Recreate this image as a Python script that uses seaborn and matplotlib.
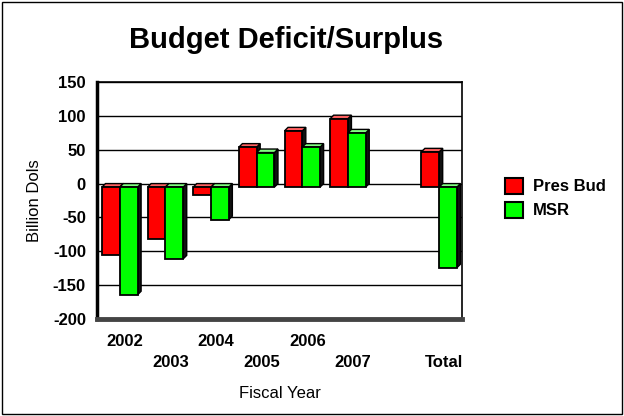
import pandas as pd
import matplotlib.pyplot as plt
import matplotlib.transforms as mtransforms
from matplotlib.patches import Polygon, Patch, Rectangle
import seaborn as sns

# values (billions)
categories = ['2002', '2003', '2004', '2005', '2006', '2007', 'Total']
pres_bud = [-101, -77, -12, 59, 83, 101, 52]
msr = [-159, -106, -48, 51, 59, 80, -119]
series_names = ['Pres Bud', 'MSR']

# one empty slot between 2007 and Total
slot_order = ['2002', '2003', '2004', '2005', '2006', '2007', '', 'Total']
tick_labels = ['2002', '\n2003', '2004', '\n2005', '2006', '\n2007', '', '\nTotal']
y_ticks = [-200, -150, -100, -50, 0, 50, 100, 150]

colors = {'Pres Bud': '#ff0000', 'MSR': '#00ff00'}
top_colors = {'Pres Bud': '#ff6060', 'MSR': '#80ff80'}

df = pd.DataFrame({
    'year': categories * 2,
    'series': ['Pres Bud'] * len(categories) + ['MSR'] * len(categories),
    'value': pres_bud + msr,
})

sns.set_style('white')
plt.rcParams['font.family'] = ['Liberation Sans', 'DejaVu Sans']
plt.rcParams['text.color'] = 'black'
plt.rcParams['axes.labelcolor'] = 'black'
plt.rcParams['xtick.color'] = 'black'
plt.rcParams['ytick.color'] = 'black'

fig = plt.figure(figsize=(6.24, 4.16), dpi=100)
ax = fig.add_axes([97 / 624, 1 - 319 / 416, 365 / 624, 237 / 416])

sns.barplot(data=df, x='year', y='value', hue='series', order=slot_order,
            hue_order=series_names, palette=colors, saturation=1, width=0.78,
            edgecolor='black', linewidth=1.3, legend=False, ax=ax, zorder=3)

ax.set_xlim(-0.5, len(slot_order) - 0.5)
ax.set_ylim(-200, 150)
ax.set_yticks(y_ticks)
ax.set_yticklabels([str(v) for v in y_ticks], fontweight='bold', fontsize=12)
ax.set_xticks(range(len(slot_order)))
ax.set_xticklabels(tick_labels, fontweight='bold', fontsize=12, linespacing=1.45)
ax.tick_params(axis='x', length=0, pad=11)
ax.tick_params(axis='y', length=0, pad=8)
# labels sit a bit right of the slot centres in the original
nudge = mtransforms.ScaledTranslation(5 / 100, 0, fig.dpi_scale_trans)
for lab in ax.get_xticklabels():
    lab.set_transform(lab.get_transform() + nudge)
ax.set_axisbelow(True)
ax.yaxis.grid(True, color='black', linewidth=1)
ax.xaxis.grid(False)
ax.set_xlabel('Fiscal Year', fontsize=12, labelpad=12)
ax.set_ylabel('Billion Dols', fontsize=12, labelpad=8)

for side in ['top', 'right']:
    ax.spines[side].set_color('black')
    ax.spines[side].set_linewidth(1.2)
ax.spines['left'].set_color('black')
ax.spines['left'].set_linewidth(2.5)
ax.spines['bottom'].set_color('#444444')
ax.spines['bottom'].set_linewidth(3.5)

# fake 3D depth: front faces pushed down a little, top and side faces added
d = 3.5
ddx = d * (len(slot_order)) / ax.bbox.width
ddy = d * 350 / ax.bbox.height
shift = mtransforms.ScaledTranslation(0, -d / fig.dpi, fig.dpi_scale_trans)
for name, cont in zip(series_names, ax.containers):
    for bar in cont:
        if pd.isna(bar.get_height()):
            continue
        x0 = bar.get_x()
        x1 = x0 + bar.get_width()
        ytop = max(bar.get_y(), bar.get_y() + bar.get_height())
        ybot = min(bar.get_y(), bar.get_y() + bar.get_height())
        bar.set_transform(ax.transData + shift)
        side = Polygon([(x1, ybot - ddy), (x1 + ddx, ybot), (x1 + ddx, ytop), (x1, ytop - ddy)],
                       closed=True, fc='#111111', ec='black', lw=1.0, zorder=2.9)
        top = Polygon([(x0, ytop - ddy), (x1, ytop - ddy), (x1 + ddx, ytop), (x0 + ddx, ytop)],
                      closed=True, fc=top_colors[name], ec='black', lw=1.0, zorder=2.9)
        ax.add_patch(side)
        ax.add_patch(top)

fig.text(286 / 624, 1 - 48 / 416, 'Budget Deficit/Surplus', fontsize=21,
         fontweight='bold', ha='center', va='baseline')

handles = [Patch(facecolor=colors[n], edgecolor='black', linewidth=1.5) for n in series_names]
fig.legend(handles, series_names, loc='center left', bbox_to_anchor=(490 / 624, 1 - 198 / 416),
           frameon=False, prop={'weight': 'bold', 'size': 12}, handlelength=1.1,
           handleheight=1.1, handletextpad=0.6, labelspacing=0.45)

fig.add_artist(Rectangle((0.003, 0.005), 0.993, 0.99, transform=fig.transFigure,
                         fill=False, edgecolor='black', linewidth=1))

fig.savefig('out.png', dpi=100)
